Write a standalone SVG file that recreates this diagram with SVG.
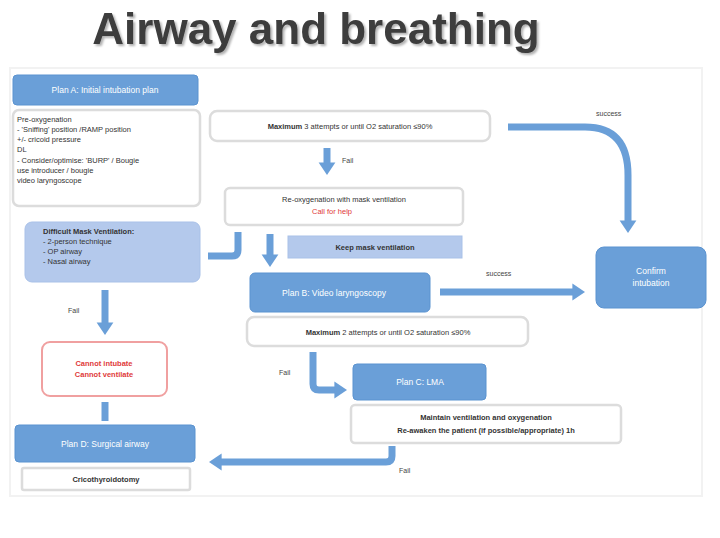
<svg xmlns="http://www.w3.org/2000/svg" width="720" height="538" viewBox="0 0 720 538">
<style>
text{font-family:"Liberation Sans",Arial,sans-serif;}
.blue{fill:#6a9fd8;stroke:#5b93d0;stroke-width:1;}
.lblue{fill:#b4c9ec;stroke:#a9c1e8;stroke-width:1;}
.white{fill:#ffffff;stroke:#dcdcdc;stroke-width:2.5;}
.wt{fill:#ffffff;font-size:8.5px;text-anchor:middle;}
.bt{fill:#333;font-size:7.5px;}
.bc{fill:#333;font-size:7.5px;text-anchor:middle;}
.red{fill:#e03a3a;font-size:7.5px;text-anchor:middle;}
.lab{fill:#444;font-size:7px;}
.con{fill:none;stroke:#6a9fd8;stroke-width:7;stroke-linejoin:round;}
</style>
<defs>
<marker id="ah" markerWidth="3" markerHeight="4" refX="0.8" refY="2" orient="auto" markerUnits="strokeWidth">
<path d="M0,0.8 L1.8,2 L0,3.2 Z" fill="#6a9fd8"/>
</marker>
<filter id="sh" x="-5%" y="-20%" width="110%" height="150%">
<feDropShadow dx="2" dy="2" stdDeviation="1.2" flood-color="#000" flood-opacity="0.3"/>
</filter>
</defs>
<rect x="0" y="0" width="720" height="538" fill="#ffffff"/>
<rect x="10" y="68" width="692" height="428" fill="none" stroke="#f2f2f2" stroke-width="2"/>
<text x="316" y="44" font-size="44" font-weight="bold" text-anchor="middle" fill="#3c3c3c" filter="url(#sh)">Airway and breathing</text>

<g id="connectors">
<path class="con" d="M327,148 L327,168" marker-end="url(#ah)"/>
<path class="con" d="M208,256 L232,256 Q238,256 238,250 L238,232"/>
<path class="con" d="M270,234 L270,260" marker-end="url(#ah)"/>
<path class="con" d="M508,127 L585,127 Q628,127 628,175 L628,226" marker-end="url(#ah)"/>
<path class="con" d="M440,292 L578,292" marker-end="url(#ah)"/>
<path class="con" d="M313,352 L313,384 Q313,390 319,390 L340,390" marker-end="url(#ah)"/>
<path class="con" d="M392,446 L392,456 Q392,462 386,462 L216,462" marker-end="url(#ah)"/>
<path class="con" d="M105,290 L105,328" marker-end="url(#ah)"/>
<path class="con" d="M105,402 L105,421"/>
<text class="lab" x="342" y="163">Fail</text>
<text class="lab" x="596" y="116">success</text>
<text class="lab" x="486" y="276">success</text>
<text class="lab" x="68" y="313">Fail</text>
<text class="lab" x="279" y="375">Fail</text>
<text class="lab" x="399" y="473">Fail</text>
</g>

<g id="planA">
<rect class="blue" x="13" y="75" width="185" height="30" rx="4"/>
<text class="wt" x="105" y="93">Plan A: Initial intubation plan</text>
</g>
<g id="planA-notes">
<rect class="white" x="13" y="110" width="187" height="96" rx="6"/>
<text class="bt" x="17" y="122">Pre-oxygenation</text>
<text class="bt" x="17" y="132">- 'Sniffing' position /RAMP position</text>
<text class="bt" x="17" y="142">+/- cricoid pressure</text>
<text class="bt" x="17" y="152">DL</text>
<text class="bt" x="17" y="163">- Consider/optimise: 'BURP' / Bougie</text>
<text class="bt" x="17" y="173">use introducer / bougie</text>
<text class="bt" x="17" y="183">video laryngoscope</text>
</g>
<g id="max1">
<rect class="white" x="210" y="111" width="280" height="30" rx="7"/>
<text class="bc" x="350" y="129"><tspan font-weight="bold">Maximum</tspan> 3 attempts or until O2 saturation ≤90%</text>
</g>
<g id="reoxy">
<rect class="white" x="225" y="188" width="238" height="37" rx="5"/>
<text class="bc" x="344" y="202">Re-oxygenation with mask ventilation</text>
<text class="red" x="332" y="214">Call for help</text>
</g>
<g id="dmv">
<rect class="lblue" x="25" y="222" width="175" height="60" rx="7"/>
<text class="bt" x="43" y="234" font-weight="bold">Difficult Mask Ventilation:</text>
<text class="bt" x="43" y="244">- 2-person technique</text>
<text class="bt" x="43" y="254">- OP airway</text>
<text class="bt" x="43" y="264">- Nasal airway</text>
</g>
<g id="keep">
<rect class="lblue" x="288" y="236" width="174" height="22"/>
<text class="bc" x="375" y="250" font-weight="bold">Keep mask ventilation</text>
</g>
<g id="planB">
<rect class="blue" x="250" y="273" width="180" height="39" rx="5"/>
<text class="wt" x="334" y="296">Plan B: Video laryngoscopy</text>
</g>
<g id="confirm">
<rect class="blue" x="596" y="247" width="110" height="61" rx="8"/>
<text class="wt" x="651" y="274">Confirm</text>
<text class="wt" x="651" y="286">intubation</text>
</g>
<g id="max2">
<rect class="white" x="247" y="317" width="281" height="29" rx="7"/>
<text class="bc" x="388" y="335"><tspan font-weight="bold">Maximum</tspan> 2 attempts or until O2 saturation ≤90%</text>
</g>
<g id="planC">
<rect class="blue" x="353" y="364" width="133" height="36" rx="4"/>
<text class="wt" x="420" y="385">Plan C: LMA</text>
</g>
<g id="maintain">
<rect class="white" x="351" y="405" width="270" height="38" rx="4"/>
<text class="bc" x="486" y="420" font-weight="bold">Maintain ventilation and oxygenation</text>
<text class="bc" x="486" y="433" font-weight="bold">Re-awaken the patient (if possible/appropriate) 1h</text>
</g>
<g id="cicv">
<rect x="42" y="342" width="125" height="54" rx="8" fill="#ffffff" stroke="#f0a0a0" stroke-width="2"/>
<text class="red" x="104" y="366" font-weight="bold">Cannot intubate</text>
<text class="red" x="104" y="377" font-weight="bold">Cannot ventilate</text>
</g>
<g id="planD">
<rect class="blue" x="15" y="425" width="180" height="37" rx="4"/>
<text class="wt" x="105" y="447">Plan D: Surgical airway</text>
</g>
<g id="crico">
<rect class="white" x="22" y="468" width="168" height="22" rx="2"/>
<text class="bc" x="106" y="482" font-weight="bold">Cricothyroidotomy</text>
</g>
</svg>
